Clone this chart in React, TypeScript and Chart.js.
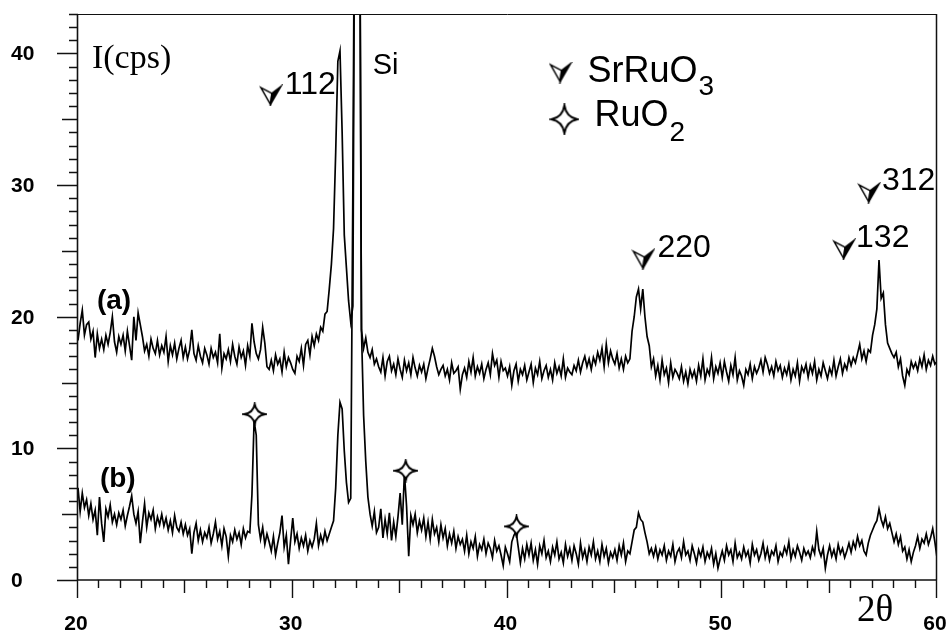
import React, { useEffect, useRef } from 'react';
import { Chart, registerables } from 'chart.js';

Chart.register(...registerables);

// ---------------- data ----------------
const thetaStart = 20;
const thetaStep = 0.1;

const xTickLabels = ['20', '30', '40', '50', '60'];
const yTickLabels = ['0', '10', '20', '30', '40'];

// trace (a), 20.0 .. 60.0 deg in 0.1 deg steps
const intensityA = [
  18.2, 19.5, 20.5, 18.6, 19.4, 19.6, 18.3, 18.9, 16.9, 18.7,
  17.6, 18.3, 17.5, 18.6, 17.9, 18.8, 20.0, 18.1, 17.3, 18.5,
  17.9, 18.6, 17.4, 18.9, 17.8, 16.7, 20.0, 18.2, 20.3, 19.4,
  18.5, 17.4, 17.9, 17.0, 18.3, 17.6, 17.2, 18.2, 17.1, 17.8,
  17.3, 18.5, 16.6, 17.8, 17.1, 18.0, 16.8, 17.6, 18.2, 16.9,
  17.7, 16.8, 17.5, 19.0, 17.2, 16.7, 17.8, 17.0, 16.5, 17.6,
  17.1, 16.4, 17.6, 16.9, 17.3, 16.5, 18.7, 16.1, 17.2, 16.8,
  17.5, 16.6, 17.9, 17.0, 16.4, 17.7, 16.9, 17.4, 16.3, 17.8,
  17.0, 19.5, 18.1, 17.2, 16.8, 17.5, 19.2, 18.0, 16.2, 16.0,
  16.7, 15.9, 17.1, 16.4, 16.8, 15.8, 17.3, 16.2, 16.9, 16.5,
  16.0, 15.7, 17.0, 16.6, 17.6, 16.3, 17.9, 18.2, 17.1, 18.5,
  17.8, 18.7, 18.2, 19.2, 18.9, 20.2, 20.4, 22.1, 24.0, 26.7,
  32.5, 39.4, 40.2, 34.0, 26.2, 23.7, 21.2, 19.6, 20.8, 60,
  60, 60, 19.0, 17.6, 18.4, 17.3, 16.9, 17.5, 16.4, 16.8,
  16.2, 15.8, 16.9, 15.5, 16.6, 17.0, 15.9, 16.4, 15.6, 16.8,
  16.0, 15.4, 16.7, 15.9, 16.5, 15.6, 16.9, 16.1, 15.5, 16.3,
  15.8, 16.4, 15.3, 16.1, 16.8, 17.6, 17.0, 16.2, 15.6, 16.0,
  16.3, 15.5, 16.0, 15.2, 16.5, 15.7, 15.9, 16.2, 14.5, 15.6,
  16.1, 15.4, 16.6, 15.8, 16.9, 15.5, 16.2, 15.7, 16.4, 15.3,
  16.0, 16.5, 15.6, 17.2, 16.3, 16.7, 15.4, 16.6, 15.9, 16.1,
  15.5, 16.2, 14.8, 15.9, 16.4, 15.1, 16.0, 15.6, 16.3, 15.2,
  15.8, 16.4, 15.0, 16.1, 15.6, 16.6, 15.3, 15.9, 16.3, 15.4,
  16.0, 15.2, 16.5, 15.7, 16.2, 15.5, 16.8, 15.4, 16.1, 15.8,
  15.6, 16.3, 15.9, 16.7, 15.8, 16.5, 17.0, 16.2, 16.8, 16.0,
  16.9, 16.4, 17.3, 16.7, 17.6, 16.2, 17.9, 16.5, 17.4, 16.8,
  16.4, 17.2, 16.1, 16.8, 16.0, 17.0, 16.5, 16.8, 18.9, 20.0,
  21.5, 22.1, 20.6, 22.1, 20.0, 18.5, 17.8, 16.2, 16.8, 15.5,
  16.3, 15.2, 16.7, 15.6, 16.1, 15.0, 16.5, 15.4, 16.0, 15.7,
  15.3, 16.2, 15.1, 15.8, 14.9, 16.0, 15.4, 15.9, 15.1, 16.3,
  15.5, 16.8, 15.2, 16.0, 15.6, 16.9, 15.3, 16.2, 15.7, 16.5,
  15.4, 16.6, 15.8, 15.1, 16.3, 15.6, 16.9, 15.2, 15.9, 15.5,
  14.8, 16.0, 15.6, 16.4, 15.3, 16.2, 15.7, 16.1, 16.7, 15.8,
  16.9, 16.4, 15.7, 16.2, 15.5, 16.6, 15.9, 16.3, 15.4, 16.1,
  15.6, 16.4, 15.2, 16.0, 15.5, 16.5, 15.1, 16.2, 15.8, 16.4,
  15.4, 16.3, 15.7, 16.6, 15.2, 16.0, 15.5, 16.5, 15.9, 15.3,
  16.1, 15.6, 16.7, 15.5, 16.2, 16.8, 15.7, 16.4, 16.0, 16.9,
  16.3, 16.9, 16.5, 17.2, 17.9, 16.8, 17.4, 16.6, 17.5, 17.3,
  18.6, 19.4, 20.6, 24.3, 21.4, 21.8, 19.4, 18.0, 17.6, 17.2,
  16.9, 17.3, 16.2, 16.8, 15.5, 14.8, 16.0, 15.6, 16.6, 16.1,
  16.5, 15.9, 16.8, 16.2, 17.1, 16.0, 16.7, 16.3, 17.0, 16.4,
  16.6,
];

// trace (b), 20.0 .. 60.0 deg in 0.1 deg steps
const intensityB = [
  7.0, 5.2, 6.6, 5.5, 6.1, 4.9, 5.8, 4.6, 5.3, 3.4,
  6.3, 4.3, 2.9, 5.4, 4.8, 5.7, 4.4, 5.0, 4.2, 5.1,
  4.6, 5.3, 4.1, 4.9, 5.6, 6.4, 5.0, 4.3, 5.2, 2.8,
  4.4, 5.8, 4.0, 5.1, 4.6, 5.3, 3.9, 4.8, 4.2, 5.0,
  4.1, 4.7, 3.8, 4.5, 3.6, 4.9, 4.0, 3.7, 4.4, 3.5,
  4.2, 3.4, 3.9, 2.0, 3.6, 4.3, 3.0, 3.8, 2.9, 3.6,
  3.2, 4.0, 2.8, 3.5, 4.4, 3.1, 3.7, 2.6, 3.9, 3.3,
  1.8, 3.4, 2.9, 3.8, 3.1, 3.6, 2.7, 3.9, 3.2, 3.7,
  3.6, 6.5, 12.1, 11.0, 4.2, 3.1, 4.0, 2.7, 3.5, 2.9,
  2.2, 3.3, 1.9, 2.8, 3.6, 4.9, 2.5, 3.4, 1.2, 3.0,
  4.7, 2.9, 3.5, 2.4, 3.2, 2.6, 3.4, 2.2, 3.0, 2.5,
  3.1, 4.3, 2.6, 3.4, 2.8, 3.7, 3.0, 3.5, 4.0, 4.5,
  7.0, 11.0, 13.5, 13.0, 9.8, 7.4, 5.9, 6.2, 30, 60,
  60, 60, 19.0, 12.5, 9.0, 6.3, 5.0, 4.1, 5.2, 3.6,
  4.0, 5.4, 3.2, 4.6, 3.5, 5.1, 3.0, 4.4, 3.3, 4.8,
  6.6, 4.2, 8.1, 5.6, 1.8, 4.9, 4.2, 5.0, 3.6, 4.5,
  3.8, 4.7, 3.3, 4.4, 3.1, 4.6, 3.5, 4.0, 2.9, 4.2,
  3.2, 3.9, 2.6, 3.5, 2.8, 3.7, 2.4, 3.3, 2.7, 3.1,
  2.2, 3.4, 2.0, 2.9, 2.4, 3.3, 1.8, 2.7, 2.3, 3.1,
  2.0, 2.8, 2.4, 1.7, 3.0, 2.2, 2.6, 1.9, 1.1, 2.5,
  2.0, 1.4, 2.9, 3.4, 3.7, 2.5, 1.3, 2.4, 1.6, 2.7,
  1.9, 2.8, 1.5, 2.3, 1.2, 2.6, 2.0, 3.0, 1.7, 2.2,
  1.4, 2.5, 1.9, 2.9, 1.6, 2.1, 1.3, 2.7, 1.8, 2.4,
  1.5, 2.6, 2.0, 1.2, 2.8, 1.7, 2.3, 1.4, 2.5, 1.9,
  2.9, 1.6, 2.2, 1.4, 2.7, 1.8, 2.4, 1.3, 2.1, 1.7,
  2.3, 1.5, 2.6, 1.9, 2.8, 1.4, 2.2, 2.0, 2.9, 3.8,
  4.0, 5.1, 4.6, 4.4, 3.6, 2.9, 2.0, 2.4, 1.8, 2.5,
  1.6, 2.3, 1.9, 2.6, 1.5, 2.2, 1.8, 2.7, 1.4, 2.1,
  2.4, 1.7, 2.9, 1.9, 2.2, 1.5, 2.6, 2.0, 1.3, 2.3,
  1.8, 2.5, 1.4, 2.1, 1.7, 2.4, 1.2, 2.0, 0.9, 1.6,
  2.2, 1.5, 2.6, 1.9, 2.3, 1.4, 2.8, 1.7, 2.1, 1.6,
  2.5, 1.8, 2.2, 1.3, 2.7, 1.9, 2.3, 1.5, 2.0, 2.8,
  1.7, 2.4, 1.5, 2.2, 1.9, 2.6, 1.4, 2.1, 1.8, 2.5,
  2.0, 2.9, 1.6, 2.3, 1.8, 2.6, 2.1, 1.5, 2.4, 1.9,
  2.2, 1.7, 2.5, 2.0, 3.7, 2.3, 1.8, 2.4, 0.9, 1.9,
  2.6, 1.8, 2.3, 1.6, 2.7, 2.0, 2.4, 1.7, 2.2, 2.8,
  2.1, 2.9, 2.4, 3.3, 2.6, 3.0, 2.2, 1.9, 2.8, 3.4,
  3.8, 4.2, 4.5, 5.4, 4.6, 4.1, 4.8, 3.9, 4.3, 3.6,
  2.9, 3.5, 2.7, 3.3, 2.2, 2.5, 1.6, 2.3, 1.4, 2.1,
  2.6, 3.3, 2.4, 3.1, 2.8, 3.5, 2.7, 3.2, 3.9, 2.9,
  1.7,
];

// SrRuO3 reflection markers (2theta, counts) and their hkl labels
const srruo3MarkTheta = [28.98, 46.33, 55.67, 56.84];
const srruo3MarkCounts = [36.81, 24.37, 25.12, 29.42];
const srruo3Hkl = ['112', '220', '132', '312'];
const srruo3HklTheta = [29.63, 46.98, 56.23, 57.44];
const srruo3HklCounts = [36.89, 24.52, 25.27, 29.65];

// RuO2 reflection markers
const ruo2MarkTheta = [28.23, 35.26, 40.42];
const ruo2MarkCounts = [12.6, 8.3, 4.07];

// key (legend) entries
const keyMarkTheta = [42.47, 42.65];
const keyMarkCounts = [38.55, 35.0];

// ---------------- helpers ----------------
const thetaAxis = intensityA.map((_, i) => +(thetaStart + i * thetaStep).toFixed(1));
const toPoints = (ys: number[]) => ys.map((v, i) => ({ x: thetaAxis[i], y: v }));
const toMarks = (xs: number[], ys: number[]) => xs.map((v, i) => ({ x: v, y: ys[i] }));

function arrowMark(w: number, h: number): HTMLCanvasElement {
  const pad = 2;
  const c = document.createElement('canvas');
  c.width = w + pad * 2;
  c.height = h + pad * 2;
  const g = c.getContext('2d')!;
  g.translate(pad, pad);
  const tl: [number, number] = [0, h * 0.06];
  const notch: [number, number] = [w * 0.55, h * 0.38];
  const tr: [number, number] = [w, 0];
  const tip: [number, number] = [w * 0.48, h];
  g.lineJoin = 'miter';
  g.lineWidth = 1.5;
  g.strokeStyle = '#000';
  g.fillStyle = '#fff';
  g.beginPath();
  g.moveTo(tl[0], tl[1]);
  g.lineTo(notch[0], notch[1]);
  g.lineTo(tip[0], tip[1]);
  g.closePath();
  g.fill();
  g.stroke();
  g.fillStyle = '#000';
  g.beginPath();
  g.moveTo(notch[0], notch[1]);
  g.lineTo(tr[0], tr[1]);
  g.lineTo(tip[0], tip[1]);
  g.closePath();
  g.fill();
  g.stroke();
  return c;
}

function starMark(rx: number, ry: number): HTMLCanvasElement {
  const pad = 2;
  const c = document.createElement('canvas');
  c.width = Math.ceil(rx * 2 + pad * 2);
  c.height = Math.ceil(ry * 2 + pad * 2);
  const g = c.getContext('2d')!;
  g.translate(c.width / 2, c.height / 2);
  const k = 0.14;
  g.beginPath();
  g.moveTo(0, -ry);
  g.quadraticCurveTo(rx * k, -ry * k, rx, 0);
  g.quadraticCurveTo(rx * k, ry * k, 0, ry);
  g.quadraticCurveTo(-rx * k, ry * k, -rx, 0);
  g.quadraticCurveTo(-rx * k, -ry * k, 0, -ry);
  g.closePath();
  g.fillStyle = '#fff';
  g.fill();
  g.lineWidth = 1.9;
  g.strokeStyle = '#000';
  g.stroke();
  return c;
}

const SANS = '"Liberation Sans", Arial, sans-serif';
const SERIF = '"Liberation Serif", "Times New Roman", serif';

const framePlugin = {
  id: 'xrdFrame',
  afterDraw(chart: any) {
    const { ctx, chartArea: a } = chart;
    const xs = chart.scales.x;
    const ys = chart.scales.y;
    const px = (v: number) => xs.getPixelForValue(v);
    const py = (v: number) => ys.getPixelForValue(v);
    ctx.save();
    ctx.strokeStyle = '#111';
    ctx.lineCap = 'butt';

    // top and right frame
    ctx.lineWidth = 1;
    ctx.beginPath();
    ctx.moveTo(a.left, a.top + 0.5);
    ctx.lineTo(a.right, a.top + 0.5);
    ctx.stroke();
    ctx.lineWidth = 1.5;
    ctx.beginPath();
    ctx.moveTo(a.right - 0.5, a.top);
    ctx.lineTo(a.right - 0.5, a.bottom);
    ctx.stroke();

    // axes
    ctx.lineWidth = 1.6;
    ctx.beginPath();
    ctx.moveTo(a.left - 0.5, a.top);
    ctx.lineTo(a.left - 0.5, a.bottom);
    ctx.moveTo(a.left - 0.5, a.bottom);
    ctx.lineTo(a.right, a.bottom);
    ctx.stroke();

    // x ticks (every 1 deg)
    ctx.lineWidth = 1.4;
    ctx.beginPath();
    for (let v = xs.min; v <= xs.max; v += 1) {
      const x = Math.round(px(v)) - 0.5;
      const len = v % 10 === 0 ? 18 : v % 5 === 0 ? 13 : 8;
      ctx.moveTo(x, a.bottom);
      ctx.lineTo(x, a.bottom + len);
    }
    // y ticks (every 1 count)
    for (let v = 0; v <= ys.max; v += 1) {
      const y = Math.round(py(v)) + 0.5;
      const len = v % 10 === 0 ? 21 : v % 5 === 0 ? 16 : 9;
      ctx.moveTo(a.left, y);
      ctx.lineTo(a.left - len, y);
    }
    ctx.stroke();

    // tick labels
    ctx.fillStyle = '#000';
    ctx.font = 'bold 21px ' + SANS;
    ctx.textAlign = 'center';
    ctx.textBaseline = 'middle';
    xTickLabels.forEach((t) => ctx.fillText(t, px(Number(t)) - 2, a.bottom + 44));
    ctx.textAlign = 'left';
    yTickLabels.forEach((t) => ctx.fillText(t, 11, py(Number(t)) + 1));

    // axis titles
    ctx.textBaseline = 'alphabetic';
    ctx.font = '34px ' + SERIF;
    ctx.fillText('I(cps)', px(20.65), py(38.93));
    ctx.font = '37px ' + SERIF;
    ctx.fillText('2\u03b8', px(56.28), py(-3.09));

    // series tags
    ctx.font = 'bold 28px ' + SANS;
    ctx.fillText('(a)', px(20.88), py(20.59));
    ctx.fillText('(b)', px(21.02), py(7.09));

    // hkl labels
    ctx.font = '32px ' + SANS;
    srruo3Hkl.forEach((t, i) => ctx.fillText(t, px(srruo3HklTheta[i]), py(srruo3HklCounts[i])));
    ctx.font = '29px ' + SANS;
    ctx.fillText('Si', px(33.72), py(38.47));

    // key
    ctx.font = '36px ' + SANS;
    const k1x = px(43.72), k1y = py(37.87);
    ctx.fillText('SrRuO', k1x, k1y);
    const w1 = ctx.measureText('SrRuO').width;
    const k2x = px(44.05), k2y = py(34.47);
    ctx.fillText('RuO', k2x, k2y);
    const w2 = ctx.measureText('RuO').width;
    ctx.font = '28px ' + SANS;
    ctx.fillText('3', k1x + w1 + 1, k1y + 13);
    ctx.fillText('2', k2x + w2 + 1, k2y + 15);

    ctx.restore();
  },
};

export default function App() {
  const ref = useRef<HTMLCanvasElement>(null);

  useEffect(() => {
    const canvas = ref.current;
    if (!canvas) return;
    const arrowSmall = arrowMark(20, 18);
    const starSmall = starMark(10.5, 10);
    const starKey = starMark(13, 14);

    const chart = new Chart(canvas, {
      type: 'scatter',
      data: {
        datasets: [
          {
            label: 'SrRuO3',
            data: toMarks(srruo3MarkTheta, srruo3MarkCounts),
            pointStyle: arrowSmall as any,
            pointRadius: 10,
            showLine: false,
            order: 0,
          },
          {
            label: 'RuO2',
            data: toMarks(ruo2MarkTheta, ruo2MarkCounts),
            pointStyle: starSmall as any,
            pointRadius: 10,
            showLine: false,
            order: 0,
          },
          {
            label: 'key SrRuO3',
            data: toMarks(keyMarkTheta.slice(0, 1), keyMarkCounts.slice(0, 1)),
            pointStyle: arrowSmall as any,
            pointRadius: 10,
            showLine: false,
            order: 0,
          },
          {
            label: 'key RuO2',
            data: toMarks(keyMarkTheta.slice(1), keyMarkCounts.slice(1)),
            pointStyle: starKey as any,
            pointRadius: 13,
            showLine: false,
            order: 0,
          },
          {
            label: '(a)',
            data: toPoints(intensityA),
            showLine: true,
            borderColor: '#000',
            borderWidth: 1.7,
            pointRadius: 0,
            tension: 0,
            order: 1,
          },
          {
            label: '(b)',
            data: toPoints(intensityB),
            showLine: true,
            borderColor: '#000',
            borderWidth: 1.7,
            pointRadius: 0,
            tension: 0,
            order: 1,
          },
        ],
      },
      options: {
        responsive: false,
        maintainAspectRatio: false,
        animation: false,
        devicePixelRatio: 1,
        events: [],
        layout: { padding: { left: 78, right: 13, top: 10, bottom: 55 } },
        scales: {
          x: { type: 'linear', min: 20, max: 60, display: false },
          y: { type: 'linear', min: 0, max: 43, display: false },
        },
        plugins: {
          legend: { display: false },
          tooltip: { enabled: false },
        },
      },
      plugins: [framePlugin],
    } as any);

    return () => chart.destroy();
  }, []);

  return (
    <div style={{ position: 'fixed', left: 0, top: 0, width: 951, height: 635, background: '#fff' }}>
      <canvas ref={ref} width={951} height={635} style={{ display: 'block', width: 951, height: 635 }} />
    </div>
  );
}
